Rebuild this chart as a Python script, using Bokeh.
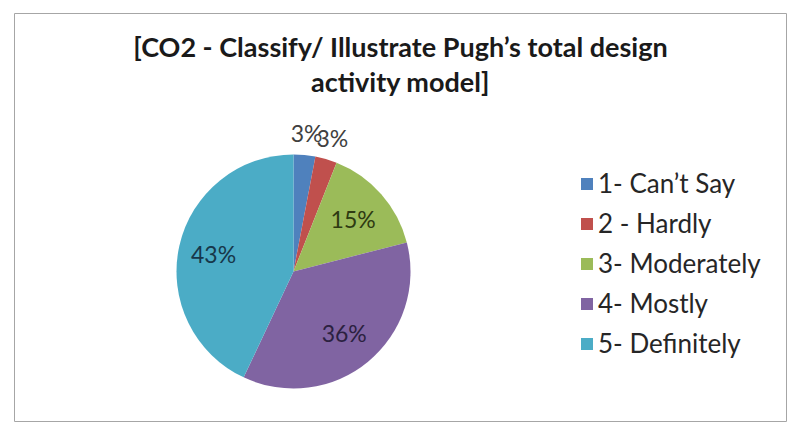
import math
from bokeh.plotting import figure
from bokeh.models import Range1d, ColumnDataSource, Legend, LegendItem, Label
from bokeh.core.properties import value
from bokeh.embed import file_html
from bokeh.resources import INLINE

# ---- data ----
title_lines = ["[CO2 - Classify/ Illustrate Pugh\u2019s total design", "activity model]"]
categories = ["1- Can\u2019t Say", "2 - Hardly", "3- Moderately", "4- Mostly", "5- Definitely"]
percents = [3, 3, 15, 36, 43]
colors = ["#4F81BD", "#C0504D", "#9BBB59", "#8064A2", "#4BACC6"]
label_colors = ["#404040", "#404040", "#2E3A12", "#2B2140", "#17374A"]
label_radius = [1.19, 1.19, 0.68, 0.68, 0.70]   # fraction of pie radius (layout)

FONT = "Lato"
W, H = 772, 408          # frame size in px == data units
CX, CY, R = 279, 150, 117

total = float(sum(percents))
starts, ends, lx, ly, texts = [], [], [], [], []
cum = 0.0
for i, v in enumerate(percents):
    a0 = math.pi / 2 - 2 * math.pi * cum / total
    cum += v
    a1 = math.pi / 2 - 2 * math.pi * cum / total
    starts.append(a0)
    ends.append(a1)
    mid = (a0 + a1) / 2
    lx.append(CX + R * label_radius[i] * math.cos(mid))
    ly.append(CY + R * label_radius[i] * math.sin(mid))
    texts.append(f"{v}%")

src = ColumnDataSource(dict(start=starts, end=ends, color=colors, cat=categories,
                            lx=lx, ly=ly, txt=texts, lc=label_colors))

p = figure(frame_width=W, frame_height=H, output_backend="svg", toolbar_location=None,
           x_range=Range1d(0, W), y_range=Range1d(0, H),
           min_border_left=14, min_border_top=13, min_border_right=6, min_border_bottom=6)
p.axis.visible = False
p.grid.visible = False
p.outline_line_color = "#A6A6A6"
p.outline_line_width = 1
p.background_fill_color = "white"
p.border_fill_color = "white"

r = p.wedge(x=CX, y=CY, radius=R, start_angle="start", end_angle="end", direction="clock",
            fill_color="color", line_color=None, source=src)

p.text(x="lx", y="ly", text="txt", source=src, text_color="lc",
       text_font=value(FONT), text_font_size="23px", text_align="center", text_baseline="middle")

# title
for k, t in enumerate(title_lines):
    p.add_layout(Label(x=W / 2, y=H - 33 - 35 * k, text=t, text_font=FONT, text_font_size="27px",
                       text_font_style="bold", text_color="#1a1a1a", text_align="center",
                       text_baseline="middle"))

items = [LegendItem(label=c, renderers=[r], index=i) for i, c in enumerate(categories)]
legend = Legend(items=items, location=(565, 62), padding=0, margin=0, border_line_color=None,
                background_fill_alpha=0, glyph_width=15, glyph_height=15, label_height=32,
                spacing=8, label_standoff=4, label_text_font=FONT, label_text_font_size="26px",
                label_text_color="#262626")
p.add_layout(legend, "center")

open("out.html", "w").write(file_html(p, INLINE))
